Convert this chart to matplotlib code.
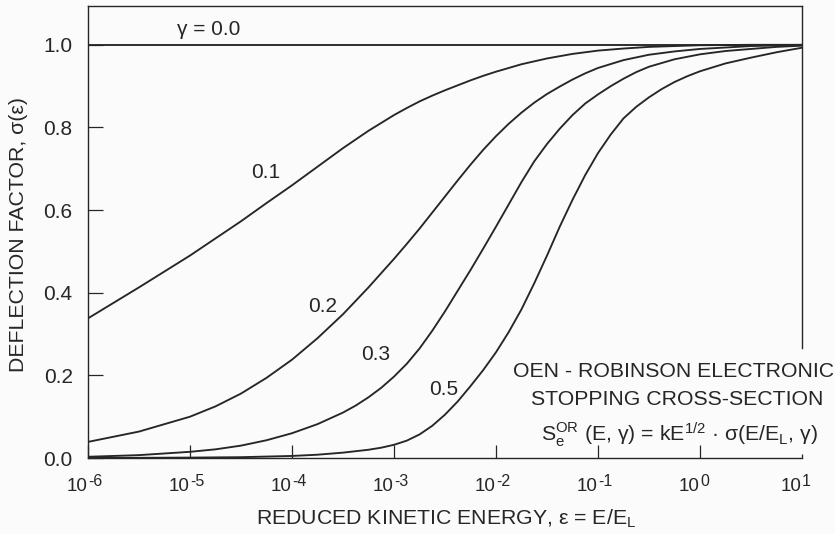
import matplotlib
matplotlib.use("Agg")
import matplotlib.pyplot as plt
from matplotlib.transforms import offset_copy
import numpy as np

plt.rcParams['font.family'] = ['Liberation Sans', 'DejaVu Sans']
plt.rcParams['mathtext.fontset'] = 'custom'
plt.rcParams['mathtext.rm'] = 'Liberation Sans'
plt.rcParams['mathtext.default'] = 'regular'

# values, x as log10(E/E_L)
lx_01 = [-6, -5.5, -5, -4.5, -4.25, -4, -3.75, -3.5, -3.25, -3, -2.875, -2.75, -2.625, -2.5, -2.375, -2.25,
         -2.125, -2, -1.75, -1.5, -1.25, -1, -0.75, -0.5, 0, 0.5, 1]
y_01 = [0.338, 0.413, 0.490, 0.573, 0.617, 0.660, 0.705, 0.750, 0.792, 0.830, 0.847, 0.863, 0.877, 0.890,
        0.902, 0.914, 0.925, 0.935, 0.953, 0.967, 0.978, 0.986, 0.991, 0.995, 0.999, 1.0, 1.0]

lx_02 = [-6, -5.5, -5, -4.75, -4.5, -4.25, -4, -3.75, -3.5, -3.25, -3, -2.875, -2.75, -2.625, -2.5, -2.375,
         -2.25, -2.125, -2, -1.875, -1.75, -1.625, -1.5, -1.375, -1.25, -1.125, -1, -0.75, -0.5, -0.25, 0,
         0.5, 1]
y_02 = [0.039, 0.064, 0.100, 0.125, 0.156, 0.194, 0.238, 0.290, 0.348, 0.413, 0.482, 0.518, 0.555, 0.594,
        0.633, 0.672, 0.710, 0.746, 0.779, 0.809, 0.836, 0.860, 0.881, 0.899, 0.916, 0.931, 0.944, 0.963,
        0.976, 0.984, 0.990, 0.997, 1.0]

lx_03 = [-6, -5.5, -5, -4.75, -4.5, -4.25, -4, -3.75, -3.5, -3.375, -3.25, -3.125, -3, -2.875, -2.75,
         -2.625, -2.5, -2.375, -2.25, -2.125, -2, -1.875, -1.75, -1.625, -1.5, -1.375, -1.25, -1.125, -1,
         -0.875, -0.75, -0.625, -0.5, -0.25, 0, 0.25, 0.5, 0.75, 1]
y_03 = [0.003, 0.007, 0.015, 0.021, 0.030, 0.043, 0.060, 0.082, 0.110, 0.127, 0.147, 0.170, 0.197, 0.228,
        0.265, 0.308, 0.355, 0.405, 0.455, 0.507, 0.560, 0.614, 0.668, 0.718, 0.760, 0.797, 0.830, 0.858,
        0.880, 0.900, 0.918, 0.934, 0.947, 0.965, 0.977, 0.985, 0.990, 0.995, 0.998]

lx_05 = [-6, -5, -4.5, -4, -3.75, -3.5, -3.25, -3.125, -3, -2.875, -2.75, -2.625, -2.5, -2.375, -2.25,
         -2.125, -2, -1.875, -1.75, -1.625, -1.5, -1.375, -1.25, -1.125, -1, -0.875, -0.75, -0.625, -0.5,
         -0.375, -0.25, -0.125, 0, 0.25, 0.5, 0.75, 1]
y_05 = [0.0, 0.001, 0.002, 0.005, 0.008, 0.013, 0.020, 0.025, 0.032, 0.042, 0.057, 0.078, 0.105, 0.137,
        0.174, 0.213, 0.256, 0.305, 0.360, 0.423, 0.490, 0.560, 0.625, 0.685, 0.738, 0.783, 0.822, 0.850,
        0.873, 0.893, 0.910, 0.924, 0.936, 0.955, 0.969, 0.982, 0.993]

lx_00 = [-6, 1]
y_00 = [1.0, 1.0]

xtick_exp = [-6, -5, -4, -3, -2, -1, 0, 1]
ytick_vals = [0.0, 0.2, 0.4, 0.6, 0.8, 1.0]

ink = '#262626'
W, H = 835, 534


def fpos(x, y):
    # pixel position -> figure fraction
    return x / W, 1 - y / H


fig = plt.figure(figsize=(8.35, 5.34), dpi=100)
fig.patch.set_facecolor('#fbfbfb')
ax = fig.add_axes([0.1054, 0.1423, 0.8551, 0.8465])
ax.set_facecolor('#fbfbfb')

for lx, yy in [(lx_00, y_00), (lx_01, y_01), (lx_02, y_02), (lx_03, y_03), (lx_05, y_05)]:
    ax.plot(10.0 ** np.array(lx), yy, color=ink, lw=1.35, solid_joinstyle='round')

ax.set_xscale('log')
ax.set_xlim(1e-6, 1e1)
ax.set_ylim(0, 1.094)
ax.minorticks_off()
ax.set_xticks([10.0 ** e for e in xtick_exp])
ax.set_xticklabels([])
ax.set_yticks(ytick_vals)
ax.set_yticklabels(['%.1f' % v for v in ytick_vals], fontsize=15)
ax.tick_params(axis='x', direction='in', length=9.5, width=0.9, color=ink)
ax.tick_params(axis='y', direction='in', length=11, width=0.9, color=ink, pad=11, labelcolor=ink)
ax.xaxis.get_major_ticks()[-1].tick1line.set_markersize(3)

# x tick labels: "10" with a large raised exponent
trans = ax.get_xaxis_transform()
t_base = offset_copy(trans, fig=fig, x=-1, y=-33, units='dots')
t_exp = offset_copy(trans, fig=fig, x=0, y=-28, units='dots')
for e in xtick_exp:
    ax.text(10.0 ** e, 0, '10', transform=t_base, ha='right', va='baseline', fontsize=13.5,
            color=ink, clip_on=False)
    ax.text(10.0 ** e, 0, str(e), transform=t_exp, ha='left', va='baseline', fontsize=11.5,
            color=ink, clip_on=False)

for s in ax.spines.values():
    s.set_color(ink)
    s.set_linewidth(1.0)
ax.spines['right'].set_bounds(0.266, 1.094)

fig.text(*fpos(446, 525), r'REDUCED KINETIC ENERGY, ε = E/E$_L$', fontsize=15.3, color=ink,
         ha='center', va='baseline')
fig.text(*fpos(19, 234), 'DEFLECTION FACTOR, σ(ε)', fontsize=15.3, color=ink, rotation=90,
         ha='center', va='center')

# curve labels
ax.text(1.53e-5, 1.024, 'γ = 0.0', fontsize=15, color=ink, ha='center', va='baseline')
ax.text(5.5e-5, 0.678, '0.1', fontsize=15, color=ink, ha='center', va='baseline')
ax.text(2.0e-4, 0.3535, '0.2', fontsize=15, color=ink, ha='center', va='baseline')
ax.text(6.65e-4, 0.2373, '0.3', fontsize=15, color=ink, ha='center', va='baseline')
ax.text(3.04e-3, 0.1525, '0.5', fontsize=15, color=ink, ha='center', va='baseline')

fig.text(*fpos(674, 377), 'OEN - ROBINSON ELECTRONIC', fontsize=15.3, color=ink,
         ha='center', va='baseline')
fig.text(*fpos(677, 405), 'STOPPING CROSS-SECTION', fontsize=15.3, color=ink,
         ha='center', va='baseline')
fig.text(*fpos(679, 441), r'S$_e^{OR}$ (E, γ) = kE$^{1/2}$ · σ(E/E$_L$, γ)', fontsize=15.3,
         color=ink, ha='center', va='baseline')

fig.savefig('out.png', dpi=100, facecolor=fig.get_facecolor())
